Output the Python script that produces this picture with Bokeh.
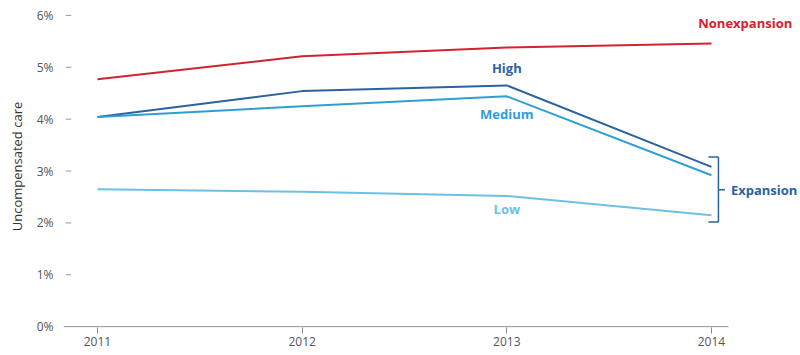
from bokeh.plotting import figure
from bokeh.models import Range1d, FixedTicker, Label, CustomJSTickFormatter
from bokeh.embed import file_html
from bokeh.resources import INLINE

years = [2011, 2012, 2013, 2014]
nonexpansion = [4.77, 5.21, 5.38, 5.46]
high = [4.04, 4.54, 4.65, 3.08]
medium = [4.04, 4.25, 4.44, 2.92]
low = [2.65, 2.60, 2.52, 2.15]
y_ticks = [0, 1, 2, 3, 4, 5, 6]

RED = "#d2232e"
DARK = "#2b62a0"
MID = "#2e9fd6"
LIGHT = "#6cc0e6"
GRAY = "#555555"
FONT = "Open Sans"

X0, X1 = 2010.834, 2014.083   # extent of the visible x axis line

p = figure(width=800, height=355, output_backend="svg", toolbar_location=None,
           x_range=Range1d(X0, 2014.435), y_range=Range1d(-0.015, 6.19),
           min_border_left=63, min_border_right=0, min_border_top=5,
           min_border_bottom=28)
p.outline_line_color = None
p.grid.grid_line_color = None
p.background_fill_color = "white"
p.border_fill_color = "white"

# x axis: ticks and labels only, the baseline is drawn as a segment
p.xaxis.ticker = FixedTicker(ticks=years)
p.xaxis.axis_line_color = None
p.xaxis.major_tick_line_color = "#8a8a8a"
p.xaxis.major_tick_out = 6
p.xaxis.major_tick_in = 0
p.xaxis.minor_tick_line_color = None
p.xaxis.major_label_text_font = FONT
p.xaxis.major_label_text_font_size = "12px"
p.xaxis.major_label_text_color = GRAY
p.xaxis.major_label_standoff = 3

# y axis: short dashes instead of an axis line
p.yaxis.ticker = FixedTicker(ticks=y_ticks)
p.yaxis.formatter = CustomJSTickFormatter(code="return tick + '%';")
p.yaxis.axis_line_color = None
p.yaxis.major_tick_line_color = None
p.yaxis.major_tick_in = 0
p.yaxis.major_tick_out = 0
p.yaxis.minor_tick_line_color = None
p.yaxis.major_label_text_font = FONT
p.yaxis.major_label_text_font_size = "12px"
p.yaxis.major_label_text_color = GRAY
p.yaxis.major_label_standoff = 10
p.yaxis.axis_label = "Uncompensated care"
p.yaxis.axis_label_text_font = FONT
p.yaxis.axis_label_text_font_size = "13px"
p.yaxis.axis_label_text_font_style = "normal"
p.yaxis.axis_label_text_color = "#333333"
p.yaxis.axis_label_standoff = 8

# baseline
p.segment(x0=[X0], x1=[X1], y0=[0], y1=[0], line_color="#8a8a8a", line_width=1)

# little dashes next to the y tick labels
p.segment(x0=[2010.845] * 6, x1=[2010.872] * 6, y0=y_ticks[1:], y1=y_ticks[1:],
          line_color="#9a9a9a", line_width=1)

p.line(years, nonexpansion, line_color=RED, line_width=2)
p.line(years, high, line_color=DARK, line_width=2)
p.line(years, medium, line_color=MID, line_width=2)
p.line(years, low, line_color=LIGHT, line_width=2)

# bracket grouping the expansion series
bx = 2014.034
p.segment(x0=[bx, 2013.985, 2013.985, bx], x1=[bx, bx, bx, 2014.066],
          y0=[3.27, 3.27, 2.02, 2.64], y1=[2.02, 3.27, 2.02, 2.64],
          line_color=DARK, line_width=1.5)

def lab(x, y, text, color, align="center"):
    p.add_layout(Label(x=x, y=y, text=text, text_color=color, text_font=FONT,
                       text_font_size="13px", text_font_style="bold",
                       text_align=align, text_baseline="middle"))

lab(2014.165, 5.85, "Nonexpansion", RED)
lab(2013.0, 4.98, "High", DARK)
lab(2013.0, 4.10, "Medium", MID)
lab(2013.0, 2.27, "Low", LIGHT)
lab(2014.095, 2.63, "Expansion", DARK, align="left")

open("out.html", "w").write(file_html(p, INLINE))
